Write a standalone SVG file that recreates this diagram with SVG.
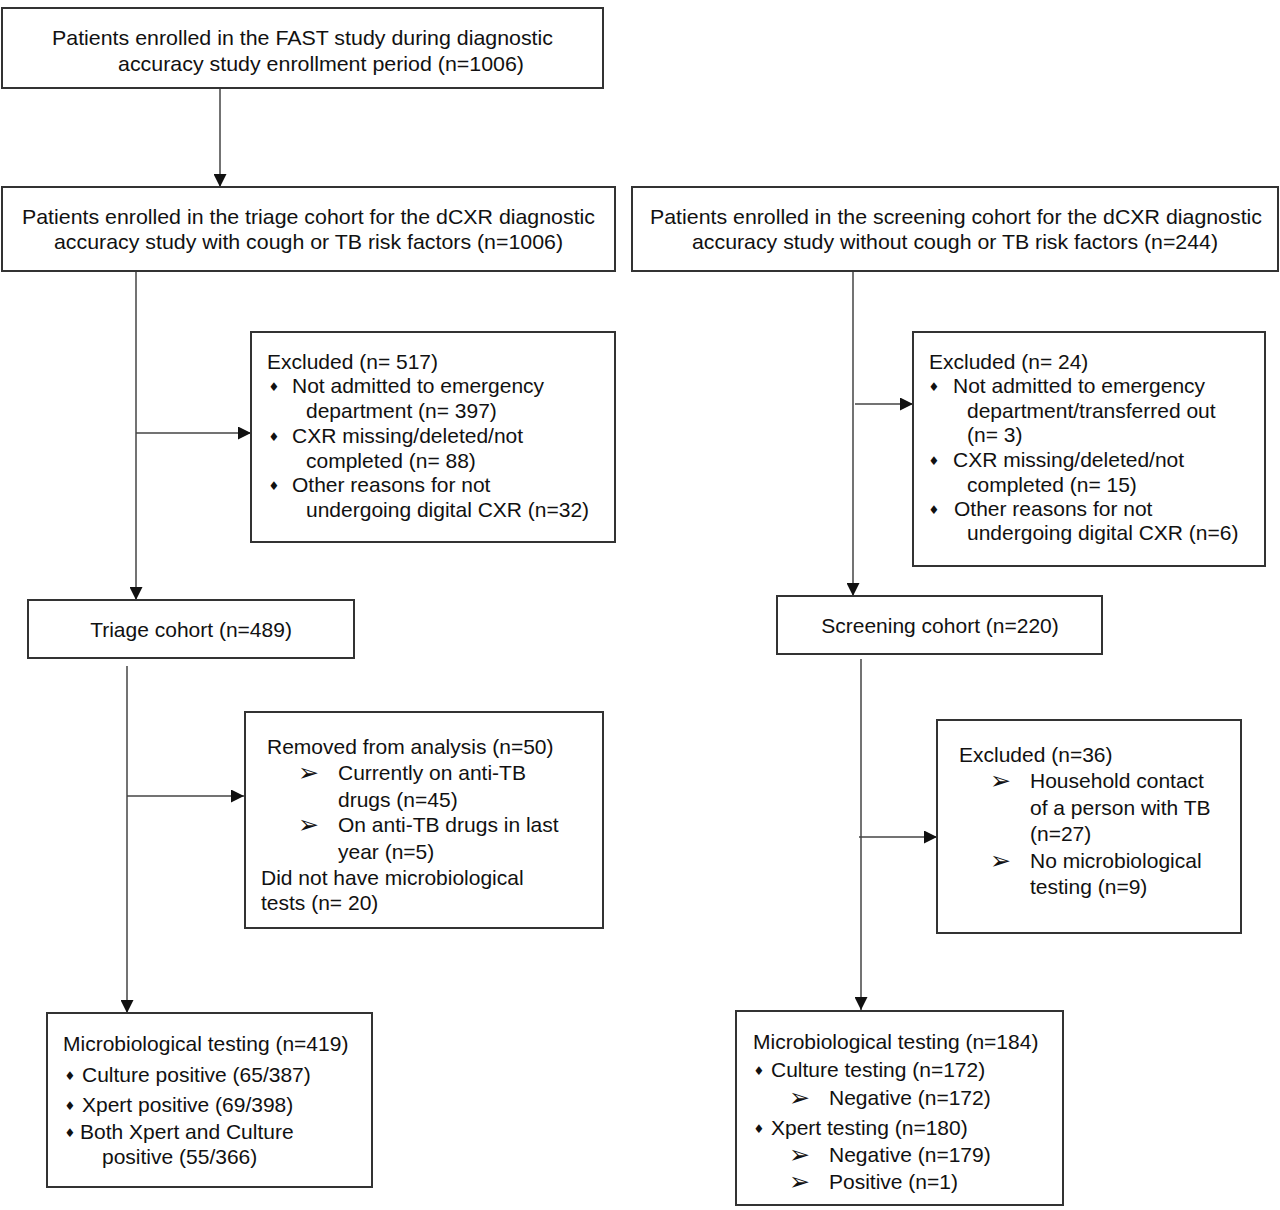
<svg xmlns="http://www.w3.org/2000/svg" width="1280" height="1210" viewBox="0 0 1280 1210">
<defs>
<style>
.box{fill:#fff;stroke:#333;stroke-width:2}
.t{font-family:"Liberation Sans",Arial,sans-serif;font-size:21px;fill:#111}
.c{text-anchor:middle}
.dm{font-family:"DejaVu Sans",sans-serif;font-size:12px;fill:#111;text-anchor:middle}
.ar{font-family:"DejaVu Sans",sans-serif;font-size:25px;fill:#111}
.ln{stroke:#444;stroke-width:1.5;fill:none}
</style>
<marker id="ah" markerUnits="userSpaceOnUse" markerWidth="13" markerHeight="13" refX="13" refY="6.5" orient="auto">
<path d="M0,0 L13,6.5 L0,13 z" fill="#111"/>
</marker>
</defs>
<rect width="1280" height="1210" fill="#fff"/>

<g id="connectors">
<line class="ln" x1="220" y1="88" x2="220" y2="187" marker-end="url(#ah)"/>
<line class="ln" x1="136" y1="271" x2="136" y2="600" marker-end="url(#ah)"/>
<line class="ln" x1="136" y1="433" x2="251" y2="433" marker-end="url(#ah)"/>
<line class="ln" x1="127" y1="666" x2="127" y2="1013" marker-end="url(#ah)"/>
<line class="ln" x1="127" y1="796" x2="244" y2="796" marker-end="url(#ah)"/>
<line class="ln" x1="853" y1="271" x2="853" y2="596" marker-end="url(#ah)"/>
<line class="ln" x1="855" y1="404" x2="913" y2="404" marker-end="url(#ah)"/>
<line class="ln" x1="861" y1="659" x2="861" y2="1010" marker-end="url(#ah)"/>
<line class="ln" x1="859" y1="837" x2="937" y2="837" marker-end="url(#ah)"/>
</g>

<g id="fast">
<rect class="box" x="2" y="8" width="601" height="80"/>
<text class="t" x="52" y="45" textLength="501" lengthAdjust="spacingAndGlyphs">Patients enrolled in the FAST study during diagnostic</text>
<text class="t" x="118" y="71" textLength="406" lengthAdjust="spacingAndGlyphs">accuracy study enrollment period (n=1006)</text>
</g>

<g id="triage-enrolled">
<rect class="box" x="2" y="187" width="613" height="84"/>
<text class="t" x="22" y="224" textLength="573" lengthAdjust="spacingAndGlyphs">Patients enrolled in the triage cohort for the dCXR diagnostic</text>
<text class="t" x="54" y="249" textLength="509" lengthAdjust="spacingAndGlyphs">accuracy study with cough or TB risk factors (n=1006)</text>
</g>

<g id="screening-enrolled">
<rect class="box" x="632" y="187" width="646" height="84"/>
<text class="t" x="650" y="224" textLength="612" lengthAdjust="spacingAndGlyphs">Patients enrolled in the screening cohort for the dCXR diagnostic</text>
<text class="t" x="692" y="249" textLength="526" lengthAdjust="spacingAndGlyphs">accuracy study without cough or TB risk factors (n=244)</text>
</g>

<g id="excluded-517">
<rect class="box" x="251" y="332" width="364" height="210"/>
<text class="t" x="267" y="369">Excluded (n= 517)</text>
<text class="dm" x="274" y="391">♦</text>
<text class="t" x="292" y="393">Not admitted to emergency</text>
<text class="t" x="306" y="418">department (n= 397)</text>
<text class="dm" x="274" y="441">♦</text>
<text class="t" x="292" y="443">CXR missing/deleted/not</text>
<text class="t" x="306" y="468">completed (n= 88)</text>
<text class="dm" x="274" y="490">♦</text>
<text class="t" x="292" y="492">Other reasons for not</text>
<text class="t" x="306" y="517">undergoing digital CXR (n=32)</text>
</g>

<g id="excluded-24">
<rect class="box" x="913" y="332" width="352" height="234"/>
<text class="t" x="929" y="369">Excluded (n= 24)</text>
<text class="dm" x="934" y="391">♦</text>
<text class="t" x="953" y="393">Not admitted to emergency</text>
<text class="t" x="967" y="418">department/transferred out</text>
<text class="t" x="967" y="442">(n= 3)</text>
<text class="dm" x="934" y="465">♦</text>
<text class="t" x="953" y="467">CXR missing/deleted/not</text>
<text class="t" x="967" y="492">completed (n= 15)</text>
<text class="dm" x="934" y="514">♦</text>
<text class="t" x="954" y="516">Other reasons for not</text>
<text class="t" x="967" y="540">undergoing digital CXR (n=6)</text>
</g>

<g id="triage-cohort">
<rect class="box" x="28" y="600" width="326" height="58"/>
<text class="t c" x="191" y="637">Triage cohort (n=489)</text>
</g>

<g id="screening-cohort">
<rect class="box" x="777" y="596" width="325" height="58"/>
<text class="t c" x="940" y="633">Screening cohort (n=220)</text>
</g>

<g id="removed-50">
<rect class="box" x="245" y="712" width="358" height="216"/>
<text class="t" x="267" y="754">Removed from analysis (n=50)</text>
<text class="ar" x="298" y="781">➢</text>
<text class="t" x="338" y="780">Currently on anti-TB</text>
<text class="t" x="338" y="807">drugs (n=45)</text>
<text class="ar" x="298" y="833">➢</text>
<text class="t" x="338" y="832">On anti-TB drugs in last</text>
<text class="t" x="338" y="859">year (n=5)</text>
<text class="t" x="261" y="885">Did not have microbiological</text>
<text class="t" x="261" y="910">tests (n= 20)</text>
</g>

<g id="excluded-36">
<rect class="box" x="937" y="720" width="304" height="213"/>
<text class="t" x="959" y="762">Excluded (n=36)</text>
<text class="ar" x="990" y="789">➢</text>
<text class="t" x="1030" y="788">Household contact</text>
<text class="t" x="1030" y="815">of a person with TB</text>
<text class="t" x="1030" y="841">(n=27)</text>
<text class="ar" x="990" y="869">➢</text>
<text class="t" x="1030" y="868">No microbiological</text>
<text class="t" x="1030" y="894">testing (n=9)</text>
</g>

<g id="micro-419">
<rect class="box" x="47" y="1013" width="325" height="174"/>
<text class="t" x="63" y="1051">Microbiological testing (n=419)</text>
<text class="dm" x="70" y="1080">♦</text>
<text class="t" x="82" y="1082">Culture positive (65/387)</text>
<text class="dm" x="70" y="1110">♦</text>
<text class="t" x="82" y="1112">Xpert positive (69/398)</text>
<text class="dm" x="70" y="1137">♦</text>
<text class="t" x="80" y="1139">Both Xpert and Culture</text>
<text class="t" x="102" y="1164">positive (55/366)</text>
</g>

<g id="micro-184">
<rect class="box" x="736" y="1011" width="327" height="194"/>
<text class="t" x="753" y="1049">Microbiological testing (n=184)</text>
<text class="dm" x="759" y="1075">♦</text>
<text class="t" x="771" y="1077">Culture testing (n=172)</text>
<text class="ar" x="789" y="1106">➢</text>
<text class="t" x="829" y="1105">Negative (n=172)</text>
<text class="dm" x="759" y="1133">♦</text>
<text class="t" x="771" y="1135">Xpert testing (n=180)</text>
<text class="ar" x="789" y="1163">➢</text>
<text class="t" x="829" y="1162">Negative (n=179)</text>
<text class="ar" x="789" y="1190">➢</text>
<text class="t" x="829" y="1189">Positive (n=1)</text>
</g>
</svg>
